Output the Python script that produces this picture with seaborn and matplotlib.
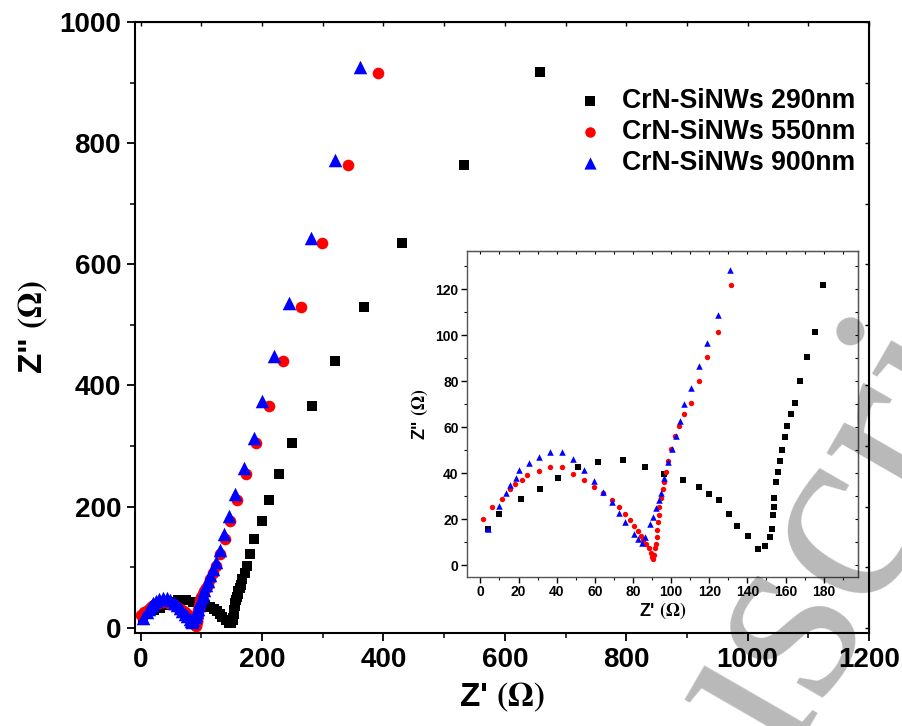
import matplotlib
matplotlib.use("Agg")
import matplotlib.pyplot as plt
import seaborn as sns
import pandas as pd
from matplotlib.ticker import MultipleLocator

# Nyquist data (Z' and Z'' in ohm)
z_re_290 = [4.2, 10, 21.2, 31.3, 40.8, 51, 61.6, 74.9, 86.4, 96.4,
            106.4, 114.5, 120.1, 125.3, 130.1, 134.5, 140.5, 145.5, 149.4, 152,
            152.7, 153.3, 153.8, 154.2, 155.2, 156, 157.1, 158.1, 159.5, 160.9,
            162.8, 165.1, 167.7, 171.2, 175.3, 179.5,
            186, 200, 211.5, 228, 249, 282, 320, 368, 430, 533, 658]
z_im_290 = [15.8, 22.2, 28.6, 32.9, 38, 42.6, 44.8, 45.5, 42.6, 39.6,
            37, 34.1, 31.1, 28.1, 22.2, 17, 12.6, 6.8, 8.2, 12,
            15.6, 21.7, 25.4, 29.2, 36.2, 40.4, 45.2, 50, 55.7, 60.4,
            65.7, 70.4, 80.1, 90.3, 101.2, 121.8,
            147, 176, 211, 253, 305, 366, 440, 529, 636, 764, 918]

z_re_550 = [1.2, 6.1, 11.5, 15.6, 18.4, 21.7, 24.3, 30.6, 36.7, 42.7,
            48.6, 54.2, 59.5, 64.2, 68.8, 72.6, 75.7, 78.4, 80.5, 82.4,
            84, 85.5, 86.9, 88.2, 89.2, 90.1, 90.6, 91.1, 91.7, 92,
            92.4, 92.7, 93.1, 93.4, 93.9, 94.6, 95.5, 96.4, 97.3, 98.5,
            100.1, 102.2, 104.2, 107, 110.4, 114.4, 119, 124.7, 131.4,
            139, 147, 159, 173, 190, 211, 235, 264, 299, 341, 391]
z_im_550 = [20, 25.1, 28.6, 32.9, 35.1, 37, 39, 40.9, 42.6, 42.6,
            39.7, 37, 34.1, 31.4, 28.3, 25.2, 22.3, 19.6, 17, 14.8,
            12.8, 10.9, 9.1, 7.2, 5.4, 3.6, 2.5, 4.3, 7.2, 9.1,
            12, 15.2, 18.6, 21.7, 25.4, 29, 32.9, 36.2, 40.4, 45.2,
            50.3, 56.2, 60.4, 65.7, 70.4, 80.1, 90.3, 101.3, 121.7,
            147, 176, 211, 253, 305, 366, 440, 529, 636, 764, 917]

z_re_900 = [4.2, 10, 13.3, 15.6, 18.5, 20.3, 25.5, 30.6, 36.7, 42.7,
            48.6, 54.2, 59.5, 64.2, 68.8, 72.6, 75.7, 80.5, 82.6, 84.8,
            86.2, 88.8, 90.4, 92.2, 93.4, 94.6, 96.5, 98.5, 100.4, 102.3,
            104.4, 107, 110.4, 114.4, 119, 124.7, 130.7,
            136.5, 145, 156, 170, 186, 200, 220, 244, 280, 320, 362]
z_im_900 = [15.8, 25.7, 31.3, 34.6, 37.8, 41.3, 44.5, 47.1, 49, 49,
            46.2, 41.3, 36.5, 31.6, 27.4, 22.5, 18.6, 13.5, 11.2, 9.4,
            12.3, 17.8, 21, 24.9, 28.3, 31.4, 38, 44.6, 50.3, 56.1,
            62.8, 70, 76.8, 86.5, 96.7, 108.7, 128.3,
            155, 185, 221, 263, 313, 375, 448, 537, 644, 772, 926]

labels = ["CrN-SiNWs 290nm", "CrN-SiNWs 550nm", "CrN-SiNWs 900nm"]
colors = ["black", "red", "blue"]
markers = ["s", "o", "^"]

series = [pd.DataFrame({"zre": z_re_290, "zim": z_im_290}),
          pd.DataFrame({"zre": z_re_550, "zim": z_im_550}),
          pd.DataFrame({"zre": z_re_900, "zim": z_im_900})]

sns.set_style("ticks")
plt.rcParams["font.family"] = ["Liberation Sans", "DejaVu Sans"]
plt.rcParams["font.weight"] = "bold"
plt.rcParams["mathtext.fontset"] = "stix"
for key in ["text.color", "axes.labelcolor", "xtick.color", "ytick.color",
            "axes.edgecolor"]:
    plt.rcParams[key] = "black"

fig = plt.figure(figsize=(9.03, 7.26), dpi=100)
ax = fig.add_axes([0.1495, 0.1285, 0.8128, 0.8408])

main_sizes = [55, 70, 95]
for df, lab, col, mk, sz in zip(series, labels, colors, markers, main_sizes):
    sns.scatterplot(data=df, x="zre", y="zim", ax=ax, color=col, marker=mk,
                    s=sz, linewidth=0, label=lab, zorder=3)

ax.set_xlim(-9.4, 1200)
ax.set_ylim(-8.5, 1000)
ax.xaxis.set_major_locator(MultipleLocator(200))
ax.xaxis.set_minor_locator(MultipleLocator(100))
ax.yaxis.set_major_locator(MultipleLocator(200))
ax.yaxis.set_minor_locator(MultipleLocator(100))
ax.tick_params(which="major", direction="out", length=6, width=1.3,
               labelsize=20, pad=4)
ax.tick_params(which="minor", direction="out", length=3.5, width=1.1)
for sp in ax.spines.values():
    sp.set_linewidth(1.5)
    sp.set_visible(True)

# mirrored ticks on top and right (pointing in)
top = ax.secondary_xaxis("top")
top.xaxis.set_major_locator(MultipleLocator(200))
top.xaxis.set_minor_locator(MultipleLocator(100))
top.tick_params(which="both", direction="in", labeltop=False, length=3, width=1)
right = ax.secondary_yaxis("right")
right.yaxis.set_major_locator(MultipleLocator(200))
right.yaxis.set_minor_locator(MultipleLocator(100))
right.tick_params(which="both", direction="in", labelright=False, length=3, width=1)

ax.set_xlabel(r"Z' $(\Omega)$", fontsize=24, fontweight="bold", labelpad=6)
ax.set_ylabel(r'Z" $(\Omega)$', fontsize=24, fontweight="bold", labelpad=7)

ax.legend(loc="upper left", bbox_to_anchor=(0.642, 0.879),
          bbox_transform=fig.transFigure, frameon=False, scatterpoints=1,
          markerscale=0.9, handlelength=0.8, handletextpad=0.8,
          labelspacing=0.19, borderpad=0, borderaxespad=0,
          prop={"size": 19.2, "weight": "bold"})

# inset: zoom on the high frequency arcs
ins = fig.add_axes([0.5172, 0.2052, 0.433, 0.449])
inset_sizes = [13, 15, 22]
for df, col, mk, sz in zip(series, colors, markers, inset_sizes):
    sns.scatterplot(data=df, x="zre", y="zim", ax=ins, color=col, marker=mk,
                    s=sz, linewidth=0, legend=False, zorder=3)
ins.set_xlim(-7, 198)
ins.set_ylim(-5.2, 136.5)
ins.xaxis.set_major_locator(MultipleLocator(20))
ins.xaxis.set_minor_locator(MultipleLocator(10))
ins.yaxis.set_major_locator(MultipleLocator(20))
ins.yaxis.set_minor_locator(MultipleLocator(10))
ins.tick_params(which="major", direction="out", length=4, width=1,
                labelsize=10, pad=2)
ins.tick_params(which="minor", direction="out", length=2, width=0.8)
for sp in ins.spines.values():
    sp.set_linewidth(1.0)
    sp.set_color("#555555")
    sp.set_visible(True)
itop = ins.secondary_xaxis("top")
itop.xaxis.set_major_locator(MultipleLocator(10))
itop.tick_params(which="both", direction="in", labeltop=False, length=2.5, width=0.8)
iright = ins.secondary_yaxis("right")
iright.yaxis.set_major_locator(MultipleLocator(10))
iright.tick_params(which="both", direction="in", labelright=False, length=2.5, width=0.8)
ins.set_xlabel(r"Z' $(\Omega)$", fontsize=13, fontweight="bold", labelpad=1)
ins.set_ylabel(r'Z" $(\Omega)$', fontsize=13, fontweight="bold", labelpad=4)

# watermark
fig.text(0.835, 0.06, "Manuscript", rotation=60, fontsize=190,
         family="Liberation Serif", fontweight="normal", color="black",
         alpha=0.28, ha="center", va="center", rotation_mode="anchor", zorder=10)

fig.savefig("out.png", dpi=100)
